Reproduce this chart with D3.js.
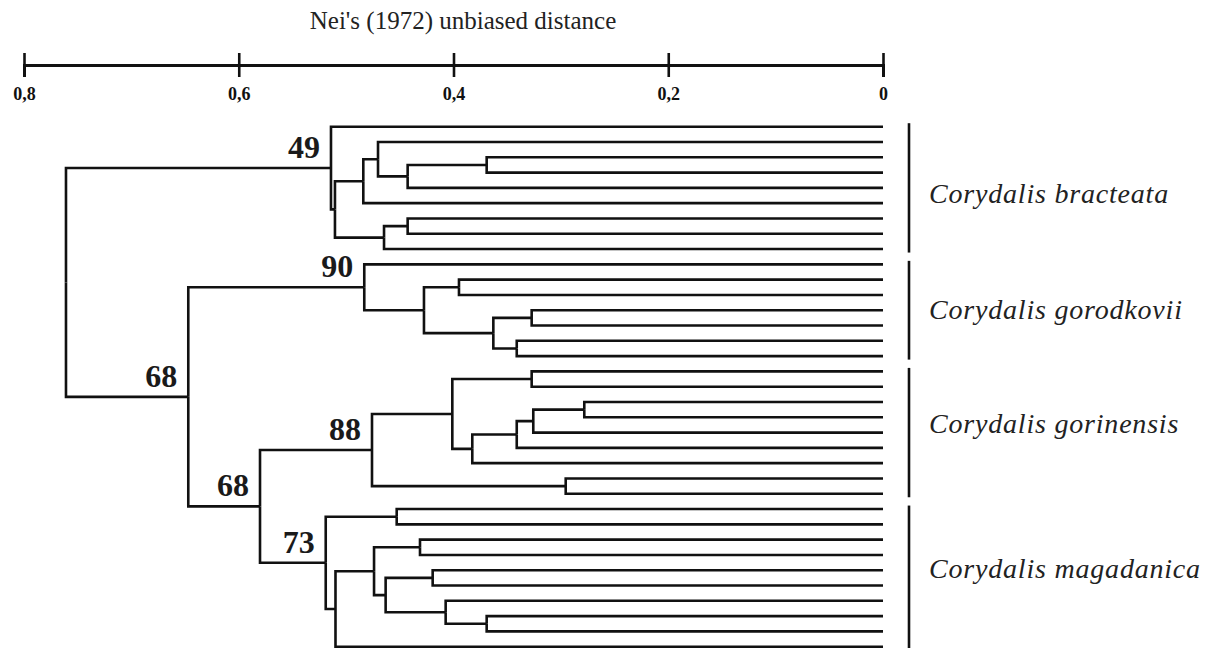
<!DOCTYPE html>
<html>
<head>
<meta charset="utf-8">
<script src="https://cdn.jsdelivr.net/npm/d3@7"></script>
<style>
  html, body { margin: 0; padding: 0; background: #fff; }
  svg { display: block; }
</style>
</head>
<body>
<svg id="chart" width="1211" height="648"></svg>
<script>
'use strict';

// Nei's distance scale
var tickValues = [0.8, 0.6, 0.4, 0.2, 0];
var tickLabels = ['0,8', '0,6', '0,4', '0,2', '0'];
var axisTitle = "Nei's (1972) unbiased distance";

// Species groups, top to bottom
var groupNames = [
  'Corydalis bracteata',
  'Corydalis gorodkovii',
  'Corydalis gorinensis',
  'Corydalis magadanica'
];

// clades: [distance, bootstrap, ...children], 0 = a population (leaf)
var bracteata = [0.5141, 49, 0,
  [0.5104, null,
    [0.4840, null,
      [0.4703, null, 0, [0.4427, null, [0.3691, null, 0, 0], 0]],
      0],
    [0.4647, null, [0.4427, null, 0, 0], 0]]];

var gorodkovii = [0.4831, 90, 0,
  [0.4275, null,
    [0.3949, null, 0, 0],
    [0.3629, null, [0.3272, null, 0, 0], [0.3411, null, 0, 0]]]];

var gorinensis = [0.4759, 88,
  [0.4011, null,
    [0.3272, null, 0, 0],
    [0.3825, null,
      [0.3411, null, [0.3257, null, [0.2782, null, 0, 0], 0], 0],
      0]],
  [0.2955, null, 0, 0]];

var magadanica = [0.5190, 73,
  [0.4529, null, 0, 0],
  [0.5099, null,
    [0.4740, null,
      [0.4312, null, 0, 0],
      [0.4632, null,
        [0.4194, null, 0, 0],
        [0.4073, null, 0, [0.3691, null, 0, 0]]]],
    0]];

var tree = [0.7609, null, bracteata,
  [0.6470, 68, gorodkovii,
    [0.5802, 68, gorinensis, magadanica]]];

var groupClades = [bracteata, gorodkovii, gorinensis, magadanica];


(function() {

  var svg = d3.select('#chart'),
    serif = '"Liberation Serif", "Times New Roman", serif',
    ink = '#111',
    axisY = 65,
    // small vertical nudges of the species names
    nameNudge = [15, 9, 0, 0];

  var x = d3.scaleLinear()
    .domain([0.8, 0])
    .range([24, 883]);

  var root = d3.hierarchy(tree, function(d) {
    return Array.isArray(d) ? d.slice(2) : null;
  });

  var leaves = root.leaves();

  var y = d3.scaleLinear()
    .domain([0, leaves.length - 1])
    .range([126.7, 646.7]);

  leaves.forEach(function(leaf, i) {
    leaf.py = y(i);
  });

  //Internal node sits midway between its children
  root.eachAfter(function(node) {
    node.dist = Array.isArray(node.data) ? node.data[0] : 0;
    node.boot = Array.isArray(node.data) ? node.data[1] : null;
    if (node.children) {
      node.py = d3.mean(node.children, function(c) { return c.py; });
    }
    node.px = x(node.dist);
  });

  svg.append('rect')
    .attr('width', 1211)
    .attr('height', 648)
    .attr('fill', '#fff');

  // ---- distance axis ----
  var axis = d3.axisBottom(x)
    .tickValues(tickValues)
    .tickFormat(function(d, i) { return tickLabels[i]; })
    .tickSizeOuter(0)
    .tickSize(12)
    .tickPadding(10);

  var gAxis = svg.append('g')
    .attr('transform', 'translate(0,' + axisY + ')')
    .call(axis);

  gAxis.attr('font-size', null).attr('font-family', null);

  gAxis.select('.domain')
    .attr('stroke', ink)
    .attr('stroke-width', 3);

  gAxis.selectAll('.tick line')
    .attr('stroke', ink)
    .attr('stroke-width', 2.6)
    .attr('y1', -12)
    .attr('y2', 12);

  gAxis.selectAll('.tick text')
    .attr('fill', ink)
    .style('font-family', serif)
    .style('font-size', '18px')
    .style('font-weight', 'bold');

  svg.append('text')
    .attr('x', 463)
    .attr('y', 29)
    .attr('text-anchor', 'middle')
    .attr('fill', '#222')
    .style('font-family', serif)
    .style('font-size', '25px')
    .text(axisTitle);

  // ---- branches ----
  svg.append('g')
    .attr('fill', 'none')
    .attr('stroke', ink)
    .attr('stroke-width', 2.6)
    .selectAll('path')
    .data(root.links())
    .join('path')
    .attr('d', function(l) {
      return 'M' + l.source.px + ',' + l.source.py +
        'V' + l.target.py + 'H' + l.target.px;
    });

  // bootstrap support
  svg.append('g')
    .selectAll('text')
    .data(root.descendants().filter(function(n) { return n.boot != null; }))
    .join('text')
    .attr('x', function(n) { return n.px - 11; })
    .attr('y', function(n) { return n.py - 10; })
    .attr('text-anchor', 'end')
    .attr('fill', '#1a1a1a')
    .style('font-family', serif)
    .style('font-size', '32px')
    .style('font-weight', 'bold')
    .text(function(n) { return n.boot; });

  // ---- species brackets ----
  var groups = groupClades.map(function(clade, i) {
    var node = root.find(function(n) { return n.data === clade; }),
      lv = node.leaves();
    return {
      name: groupNames[i],
      y0: lv[0].py,
      y1: lv[lv.length - 1].py,
      nudge: nameNudge[i]
    };
  });

  var gGroup = svg.append('g')
    .selectAll('g')
    .data(groups)
    .join('g');

  gGroup.append('line')
    .attr('x1', 909)
    .attr('x2', 909)
    .attr('y1', function(g) { return g.y0 - 3.5; })
    .attr('y2', function(g) { return g.y1 + 3.5; })
    .attr('stroke', ink)
    .attr('stroke-width', 2.6);

  gGroup.append('text')
    .attr('x', 929)
    .attr('y', function(g) { return (g.y0 + g.y1) / 2 + g.nudge; })
    .attr('fill', '#222')
    .style('font-family', serif)
    .style('font-size', '28px')
    .style('letter-spacing', '0.8px')
    .style('font-style', 'italic')
    .text(function(g) { return g.name; });

})();
</script>
</body>
</html>
